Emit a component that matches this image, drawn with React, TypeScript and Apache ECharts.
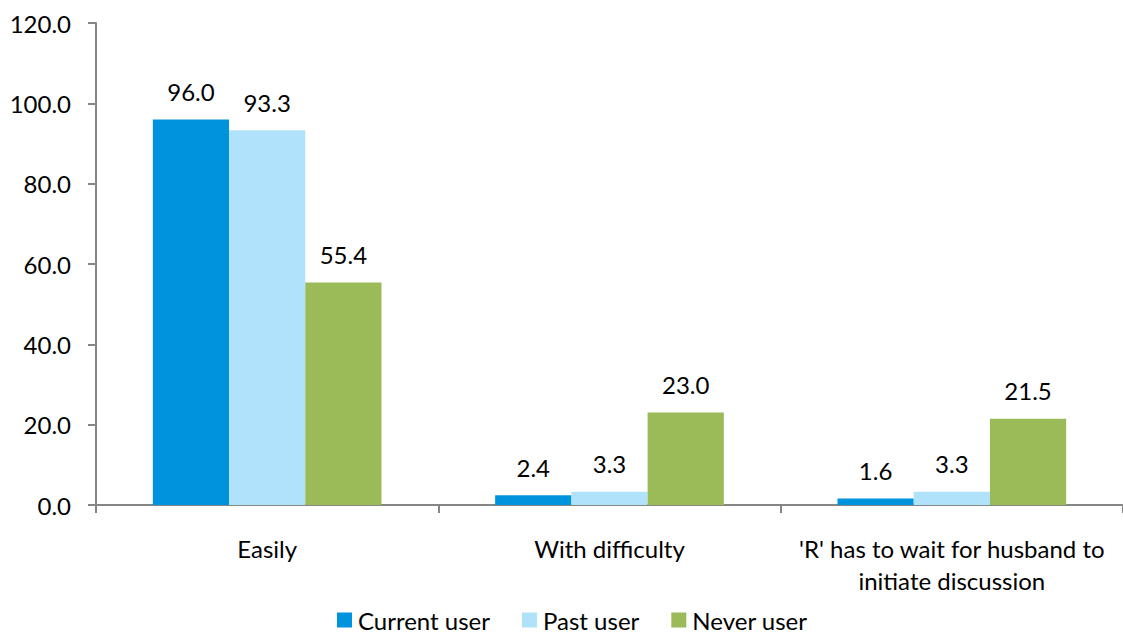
import React, { useEffect, useRef } from "react";
import * as echarts from "echarts";

const categories = ["Easily", "With difficulty", "'R' has to wait for husband to\ninitiate discussion"];
const currentUser = [96.0, 2.4, 1.6];
const pastUser = [93.3, 3.3, 3.3];
const neverUser = [55.4, 23.0, 21.5];
const seriesNames = ["Current user", "Past user", "Never user"];
const colors = ["#0093DD", "#B0E3FB", "#9BBB59"];

const FONT = "Lato, 'Open Sans', sans-serif";
const FS = 24;

export default function App() {
  const ref = useRef<HTMLDivElement>(null);
  useEffect(() => {
    if (!ref.current) return;
    const chart = echarts.init(ref.current, null, { renderer: "svg" });
    const label = {
      show: true,
      position: "top" as const,
      distance: 16,
      color: "#000",
      fontSize: FS,
      fontFamily: FONT,
      formatter: (p: any) => Number(p.value).toFixed(1),
    };
    const datasets = [currentUser, pastUser, neverUser];
    chart.setOption({
      animation: false,
      backgroundColor: "#fff",
      textStyle: { fontFamily: FONT },
      grid: { left: 96, right: -4, top: 23, bottom: 130, containLabel: false },
      legend: {
        left: 332,
        top: 603,
        itemWidth: 15,
        itemHeight: 15,
        itemGap: 32,
        icon: "rect",
        textStyle: { fontSize: FS, color: "#000", fontFamily: FONT, padding: [0, 0, 0, 1] },
        data: seriesNames,
      },
      xAxis: {
        type: "category",
        data: categories,
        axisLine: { lineStyle: { color: "#868686", width: 2 } },
        axisTick: { show: true, length: 8, alignWithLabel: false, lineStyle: { color: "#868686", width: 2 } },
        axisLabel: { color: "#000", fontSize: FS, fontFamily: FONT, margin: 27, lineHeight: 32, interval: 0 },
      },
      yAxis: {
        type: "value",
        min: 0,
        max: 120,
        interval: 20,
        axisLine: { show: true, lineStyle: { color: "#868686", width: 2 } },
        axisTick: { show: true, length: 8, lineStyle: { color: "#868686", width: 2 } },
        splitLine: { show: false },
        axisLabel: {
          color: "#000",
          fontSize: FS,
          fontFamily: FONT,
          margin: 25,
          formatter: (v: number) => v.toFixed(1),
        },
      },
      series: datasets.map((d, i) => ({
        name: seriesNames[i],
        type: "bar",
        data: d,
        barGap: "0%",
        barCategoryGap: "33.2%",
        itemStyle: { color: colors[i] },
        label,
      })),
    });
    return () => chart.dispose();
  }, []);
  return (
    <div
      ref={ref}
      style={{ position: "fixed", left: 0, top: 0, width: 1123, height: 635 }}
    />
  );
}
